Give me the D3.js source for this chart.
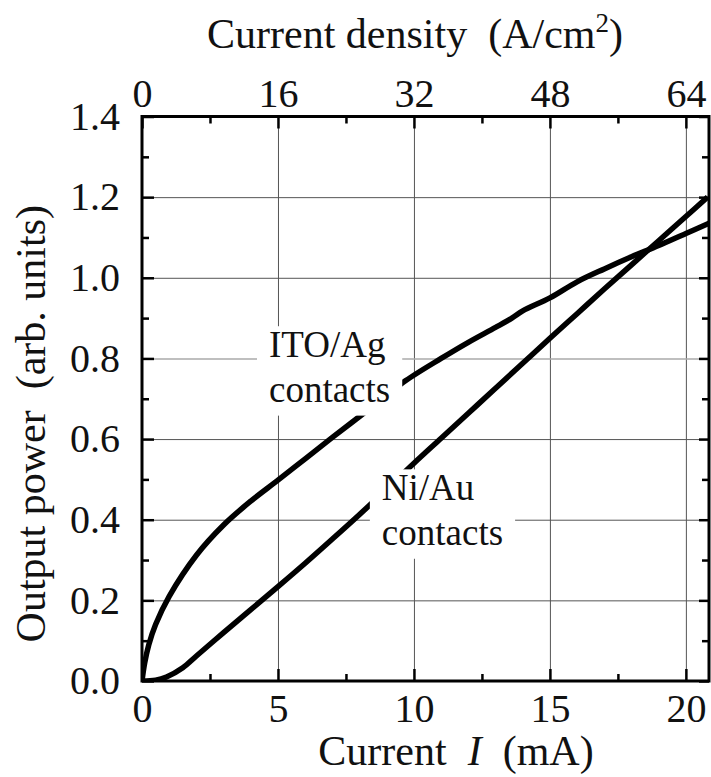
<!DOCTYPE html>
<html>
<head>
<meta charset="utf-8">
<script src="https://cdn.jsdelivr.net/npm/d3@7"></script>
<style>
  html, body { margin: 0; padding: 0; background: #fff; }
  svg { display: block; }
  text { font-family: "Liberation Serif", "DejaVu Serif", serif; fill: #111; }
</style>
</head>
<body>
<svg id="chart" width="711" height="777"></svg>
<script>
// ---- data ----
const itoCurrent = [0, 0.1, 0.25, 0.5, 1.0, 2.0, 3.0, 4.0, 5.0, 6.0, 7.0, 8.0, 9.0, 9.7, 11.0, 12.0, 13.0, 13.6, 14.0, 15.0, 16.0, 17.0, 18.0, 19.0, 20.0, 20.85];
const itoPower   = [0, 0.045, 0.09, 0.14, 0.21, 0.312, 0.387, 0.446, 0.498, 0.551, 0.604, 0.656, 0.708, 0.745, 0.8, 0.84, 0.877, 0.9, 0.918, 0.95, 0.99, 1.022, 1.052, 1.08, 1.11, 1.135];

const niCurrent = [0, 0.5, 0.9, 1.5, 2.0, 3.0, 4.0, 5.0, 6.0, 7.0, 8.0, 9.0, 10.0, 11.0, 12.0, 13.0, 14.0, 15.0, 16.0, 17.0, 18.0, 19.0, 20.0, 20.8];
const niPower   = [0, 0.002, 0.01, 0.033, 0.062, 0.12, 0.177, 0.234, 0.292, 0.352, 0.413, 0.476, 0.54, 0.602, 0.664, 0.726, 0.788, 0.85, 0.911, 0.972, 1.032, 1.092, 1.152, 1.2];

const xMajorTicks = [0, 5, 10, 15, 20];
const xMinorTicks = [2.5, 7.5, 12.5, 17.5];
const xGridTicks  = [5, 10, 15, 20];
const yMajorTicks = [0, 0.2, 0.4, 0.6, 0.8, 1.0, 1.2, 1.4];
const yMinorTicks = [0.1, 0.3, 0.5, 0.7, 0.9, 1.1, 1.3];
const yGridTicks  = [0.2, 0.4, 0.6, 0.8, 1.0, 1.2];
const topMajorTicks = [0, 16, 32, 48, 64];
const topMinorTicks = [8, 24, 40, 56];
const densityPerMA = 3.2;   // 16 A/cm2 per 5 mA

const xMax = 20.85, yMax = 1.4;
const labelITO = ["ITO/Ag", "contacts"];
const labelNi  = ["Ni/Au", "contacts"];

// ---- layout ----
const svg = d3.select("#chart");
const L = 142, R = 709, T = 116.5, B = 681;
const x = d3.scaleLinear().domain([0, xMax]).range([L, R]);
const xTop = d3.scaleLinear().domain([0, xMax * densityPerMA]).range([L, R]);
const y = d3.scaleLinear().domain([0, yMax]).range([B, T]);

const TICK_FONT = 40;

// gridlines
const gx = svg.append("g").attr("transform", `translate(0,${B})`)
  .call(d3.axisBottom(x).tickValues(xGridTicks).tickSize(-(B - T)).tickFormat(""));
gx.select(".domain").remove();
gx.selectAll("line").attr("stroke", "#555").attr("stroke-width", 1);

const gy = svg.append("g").attr("transform", `translate(${L},0)`)
  .call(d3.axisLeft(y).tickValues(yGridTicks).tickSize(-(R - L)).tickFormat(""));
gy.select(".domain").remove();
gy.selectAll("line").attr("stroke", d => Math.abs(d - 0.8) < 1e-6 ? "#aaa" : "#555")
  .attr("stroke-width", d => Math.abs(d - 0.8) < 1e-6 ? 1.6 : 1);

// curves
svg.append("clipPath").attr("id", "plotclip")
  .append("rect").attr("x", L).attr("y", T).attr("width", R - L).attr("height", B - T);
const line = d3.line().x(d => x(d[0])).y(d => y(d[1])).curve(d3.curveCatmullRom.alpha(0.5));
const curves = svg.append("g").attr("clip-path", "url(#plotclip)");
curves.append("path").datum(d3.zip(itoCurrent, itoPower))
  .attr("d", line).attr("fill", "none").attr("stroke", "#000").attr("stroke-width", 5.5);
curves.append("path").datum(d3.zip(niCurrent, niPower))
  .attr("d", line).attr("fill", "none").attr("stroke", "#000").attr("stroke-width", 5.5);

// annotations with white background boxes
function addLabel(lines, ax, ay) {
  const g = svg.append("g");
  const rect = g.append("rect").attr("fill", "#fff");
  const t = g.append("text").attr("x", x(ax)).attr("y", y(ay))
    .attr("font-size", 37);
  lines.forEach((s, i) => {
    t.append("tspan").attr("x", x(ax)).attr("dy", i === 0 ? 0 : "1.2em").text(s);
  });
  const bb = t.node().getBBox();
  rect.attr("x", bb.x - 12).attr("y", bb.y + 2)
    .attr("width", bb.width + 24).attr("height", bb.height + 4);
}
addLabel(labelITO, 4.67, 0.803);
addLabel(labelNi, 8.82, 0.448);

// frame
svg.append("rect").attr("x", L).attr("y", T).attr("width", R - L).attr("height", B - T)
  .attr("fill", "none").attr("stroke", "#000").attr("stroke-width", 3);

function styleTicks(g, w) {
  g.select(".domain").remove();
  g.selectAll("line").attr("stroke", "#000").attr("stroke-width", w);
  g.selectAll("text").attr("font-size", TICK_FONT).attr("font-family", "Liberation Serif, serif").attr("fill", "#111");
}

// bottom axis
svg.append("g").attr("transform", `translate(0,${B})`)
  .call(d3.axisBottom(x).tickValues(xMajorTicks).tickSize(-12).tickPadding(13).tickFormat(d3.format("d")))
  .call(g => styleTicks(g, 2.5));
svg.append("g").attr("transform", `translate(0,${B})`)
  .call(d3.axisBottom(x).tickValues(xMinorTicks).tickSize(-7).tickFormat(""))
  .call(g => styleTicks(g, 2.5));

// top axis (current density)
svg.append("g").attr("transform", `translate(0,${T})`)
  .call(d3.axisTop(xTop).tickValues(topMajorTicks).tickSize(-12).tickPadding(10).tickFormat(d3.format("d")))
  .call(g => styleTicks(g, 2.5));
svg.append("g").attr("transform", `translate(0,${T})`)
  .call(d3.axisTop(xTop).tickValues(topMinorTicks).tickSize(-7).tickFormat(""))
  .call(g => styleTicks(g, 2.5));

// left axis
svg.append("g").attr("transform", `translate(${L},0)`)
  .call(d3.axisLeft(y).tickValues(yMajorTicks).tickSize(-12).tickPadding(22).tickFormat(d3.format(".1f")))
  .call(g => styleTicks(g, 2.5));
svg.append("g").attr("transform", `translate(${L},0)`)
  .call(d3.axisLeft(y).tickValues(yMinorTicks).tickSize(-7).tickFormat(""))
  .call(g => styleTicks(g, 2.5));

// right axis (ticks only)
svg.append("g").attr("transform", `translate(${R},0)`)
  .call(d3.axisRight(y).tickValues(yMajorTicks).tickSize(-10).tickFormat(""))
  .call(g => styleTicks(g, 2.5));
svg.append("g").attr("transform", `translate(${R},0)`)
  .call(d3.axisRight(y).tickValues(yMinorTicks).tickSize(-7).tickFormat(""))
  .call(g => styleTicks(g, 2.5));

// axis titles
const topTitle = svg.append("text").attr("x", 415).attr("y", 48)
  .attr("text-anchor", "middle").attr("font-size", 42);
topTitle.append("tspan").text("Current density\u00a0\u00a0(A/cm");
topTitle.append("tspan").attr("font-size", 27).attr("dy", -16).text("2");
topTitle.append("tspan").attr("dy", 16).text(")");

const botTitle = svg.append("text").attr("x", 456).attr("y", 765)
  .attr("text-anchor", "middle").attr("font-size", 42);
botTitle.append("tspan").text("Current\u00a0\u00a0");
botTitle.append("tspan").attr("font-style", "italic").text("I");
botTitle.append("tspan").text("\u00a0\u00a0(mA)");

svg.append("text").attr("transform", `translate(45,${(T + B) / 2 + 25}) rotate(-90)`)
  .attr("text-anchor", "middle").attr("font-size", 42)
  .text("Output power\u00a0\u00a0(arb. units)");
</script>
</body>
</html>
